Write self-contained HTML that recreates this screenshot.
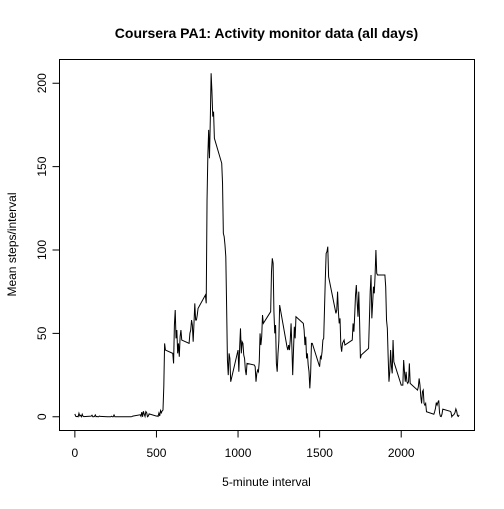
<!DOCTYPE html>
<html><head><meta charset="utf-8"><style>
body{margin:0;background:#fff}
svg text{font-family:"Liberation Sans",Arial,sans-serif;fill:#000}
</style></head><body>
<svg id="chart" width="504" height="504" viewBox="0 0 504 504">
<rect width="504" height="504" fill="#fff"/>
<text x="266.5" y="38" font-size="14" font-weight="bold" text-anchor="middle">Coursera PA1: Activity monitor data (all days)</text>
<text x="266.5" y="486" font-size="12" text-anchor="middle">5-minute interval</text>
<text x="16" y="244.5" font-size="12" text-anchor="middle" transform="rotate(-90 16 244.5)">Mean steps/interval</text>
<rect x="59.5" y="59.5" width="415" height="371" fill="none" stroke="#000"/>
<g id="axes"></g>
<polyline id="series" fill="none" stroke="#000" stroke-width="1"/>
</svg>
<script>
const hourValues = [
[1.7,0.3,0.1,0.2,0,2.1,0.5,0.9,0,1.5,0.3,0.1],
[0.4,0.9,0,0,0.2,1.1,0,0.2,0,0,0.4,0.2],
[0,0,0,0,0,0.3,0,0,1.1,0,0,0],
[0,0,0,0,0,0,0,0,0,0,0.1,0.4],
[1.2,0.3,2.8,0,3.3,1.5,0.2,3.1,2.5,0,0.4,1.7],
[0.4,0.5,0.2,2.2,0.5,3.7,2.4,3.5,4,18,44,40],
[38,32,55,64,47,52,38,44,36,48,52,46],
[44,50,52,58,55,45,56,68,58,58,61,65],
[73,68,130,157,172,155,178,206,195,180,183,167],
[152,140,110,108,103,96,66,34,25,38,35,21],
[40,27,42,53,38,45,44,37,35,28,25,32],
[31,30,21,26,28,27,33,50,43,48,61,56],
[63,87,95,92,63,50,55,32,27,38,45,67],
[42,40,43,40,46,56,42,25,40,54,47,60],
[56,52,43,48,35,38,31,27,17,26,44,44],
[30,36,35,39,46,47,65,83,98,99,102,84],
[62,64,75,63,56,59,43,39,44,45,46,43],
[46,56,51,61,73,79,69,60,75,57,35,37],
[41,58,75,85,59,68,78,74,85,100,86,85],
[85,78,58,53,36,21,27,40,30,26,46,33],
[19,19,19,34,27,21,27,21,20,21,32,20],
[16,18,23,19,12,8,15,16,8,7,8,3],
[1.5,3,5,8.5,7,8.7,9.8,2.2,0.3,0.1,1.6,4.6],
[3.3,2.8,0,0.8,1,1.6,2.6,4.7,3.3,0.6,0.2,1.1]
];
const xTicks = [0,500,1000,1500,2000];
const yTicks = [0,50,100,150,200];

const intervals = [], steps = [];
hourValues.forEach((row,h)=>row.forEach((v,m)=>{intervals.push(h*100+m*5);steps.push(v);}));
const xmin=Math.min(...intervals), xmax=Math.max(...intervals);
const ymin=Math.min(...steps), ymax=Math.max(...steps);
const xr=[xmin-(xmax-xmin)*0.04, xmax+(xmax-xmin)*0.04];
const yr=[ymin-(ymax-ymin)*0.04, ymax+(ymax-ymin)*0.04];
const X=v=>59.5+(v-xr[0])/(xr[1]-xr[0])*415;
const Y=v=>430.5-(v-yr[0])/(yr[1]-yr[0])*371;
const NS="http://www.w3.org/2000/svg";
const line=document.getElementById('series');
line.setAttribute('points', intervals.map((x,i)=>X(x).toFixed(2)+','+Y(steps[i]).toFixed(2)).join(' '));
const ax=document.getElementById('axes');
function mk(tag,attrs){const e=document.createElementNS(NS,tag);for(const k in attrs)e.setAttribute(k,attrs[k]);ax.appendChild(e);return e;}
mk('line',{x1:X(xTicks[0]),x2:X(xTicks[xTicks.length-1]),y1:430.5,y2:430.5,stroke:'#000'});
xTicks.forEach(t=>{
  const l=mk('line',{x1:X(t),x2:X(t),y1:430.5,y2:437.5,stroke:'#000'});
  
  
  const tx=mk('text',{x:X(t),y:457,'font-size':12,'text-anchor':'middle'});
  tx.textContent=t;
  
  
});
mk('line',{x1:59.5,x2:59.5,y1:Y(yTicks[0]),y2:Y(yTicks[yTicks.length-1]),stroke:'#000'});
yTicks.forEach(t=>{
  const l=mk('line',{x1:52.5,x2:59.5,y1:Y(t),y2:Y(t),stroke:'#000'});
  
  
  const tx=mk('text',{x:46,y:Y(t),'font-size':12,'text-anchor':'middle',transform:`rotate(-90 46 ${Y(t)})`});
  tx.textContent=t;
  
  
});
</script>
</body></html>
